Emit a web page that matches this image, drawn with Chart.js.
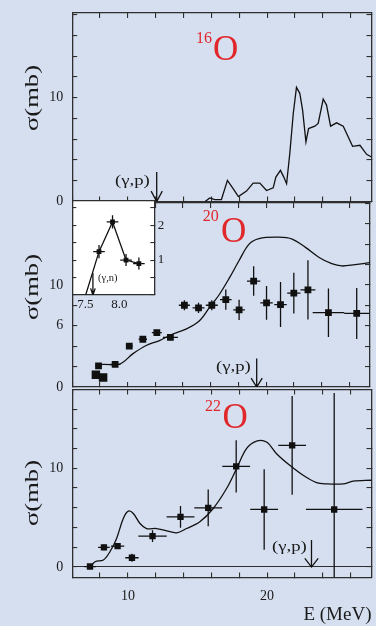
<!DOCTYPE html>
<html><head><meta charset="utf-8">
<script src="https://cdn.jsdelivr.net/npm/chart.js@4/dist/chart.umd.min.js"></script>
<style>
html,body{margin:0;padding:0;background:#d6dff0;width:376px;height:626px;overflow:hidden;}
#wrap{position:relative;width:376px;height:626px;}
canvas{position:absolute;}
.t{position:absolute;font-family:"Liberation Serif","Times New Roman",serif;line-height:1;white-space:nowrap;color:#1a1a1a;}
.red{color:#e0282a;}
</style></head><body><div id="wrap">
<canvas id="c1" width="376" height="206" style="left:0;top:0"></canvas>
<canvas id="c2" width="376" height="196" style="left:0;top:197px"></canvas>
<canvas id="c3" width="376" height="241" style="left:0;top:385px"></canvas>
<canvas id="c4" width="115" height="125" style="left:60px;top:195px"></canvas>
</div>
<script>
// ---------------- data ----------------
// 16O photo-absorption curve
const E16 = [15.55,15.88,16.24,16.72,17.15,17.56,17.94,18.52,19.0,19.48,19.96,20.44,20.63,20.96,21.2,21.4,21.63,21.88,22.11,22.35,22.55,22.79,22.98,23.43,23.67,24.03,24.27,24.56,24.99,25.47,26.14,26.67,27.15,27.5];
const S16 = [0,0.35,0.19,0.19,2.03,1.23,0.48,1.0,1.77,1.77,1.06,1.32,2.35,3.0,2.35,1.71,4.61,8.48,11.0,10.42,8.8,5.74,7.03,7.26,7.52,9.87,9.29,7.26,7.58,7.26,5.32,5.42,4.55,4.29];

// 20O theory curve
const E20c = [7.71,8.23,9.43,10.39,11.34,12.3,13.26,14.21,15.17,15.89,16.61,17.33,18.05,18.77,19.49,20.92,21.88,22.84,23.8,24.74,25.46,26.42,27.5];
const S20c = [2.08,2.21,2.24,3.27,4.07,4.55,5.19,5.67,6.47,7.76,9.04,10.64,12.4,14.0,14.55,14.68,14.49,13.68,12.72,12.08,11.86,11.99,12.18];
// 20O measured points
const E20 = [7.71,8.23,7.9,9.1,10.12,11.1,12.11,13.09,14.1,15.12,16.08,17.09,18.05,19.1,20.03,21.04,22.0,23.02,24.5,26.54];
const S20 = [1.19,0.93,2.08,2.21,4.0,4.68,5.32,4.87,8.01,7.76,8.01,8.56,7.56,10.38,8.24,8.08,9.2,9.52,7.28,7.21];
const dE20 = [0.15,0.15,0.2,0.38,0.24,0.3,0.36,0.54,0.4,0.43,0.43,0.42,0.42,0.48,0.45,0.45,0.48,0.54,1.14,0.9];
const dS20 = [0.2,0.2,0.2,0.25,0.25,0.3,0.3,0.3,0.48,0.5,0.5,1.0,1.0,1.45,1.65,2.2,2.0,2.9,2.37,2.5];

// 22O theory curve
const E22c = [7.28,7.64,8.24,8.71,9.19,9.67,10.03,10.39,10.87,11.34,12.06,12.78,13.5,14.22,15.17,16.13,17.09,17.81,18.52,19.24,19.96,20.68,21.63,22.59,23.55,24.27,25.46,26.18,27.5];
const S22c = [0.0,0.54,0.71,1.55,2.9,4.92,5.66,5.42,4.41,3.9,3.9,3.67,3.47,3.9,4.58,5.93,7.95,9.97,11.99,12.76,12.66,11.48,10.3,9.29,8.55,8.42,8.42,8.69,8.79];
// 22O measured points
const E22 = [7.28,8.28,9.26,10.29,11.77,13.78,15.77,17.78,19.79,21.8,24.82];
const S22 = [0.05,1.99,2.12,0.94,3.13,5.08,5.99,10.2,5.83,12.32,5.83];
const dE22 = [0.42,0.42,0.48,0.48,1.02,1.0,1.0,1.0,1.0,1.0,2.03];
const dS22 = [0.15,0.3,0.3,0.4,0.6,1.1,1.85,2.65,4.07,5.0,11.8];

// inset (20O low energy)
const EinC = [7.503,7.70,7.90,8.10,8.29];
const SinC = [0.0,1.24,2.09,1.0,0.9];
const Ein = [7.70,7.90,8.10,8.29];
const Sin = [1.24,2.09,1.0,0.9];
const dEin = [0.086,0.086,0.086,0.086];
const dSin = [0.19,0.19,0.17,0.17];

// thresholds (MeV)
const thrGP16 = 12.07, thrGP20 = 19.32, thrGP22 = 23.19, thrGN20 = 7.61;

// tick labels
const xTickLabels = [10, 20];
const yTicks16 = [0, 10];
const yTicks20 = [0, 6, 10];
const yTicks22 = [0, 10];
const insetXTicks = [7.5, 8.0];
const insetYTicks = [1, 2];

// ---------------- helpers ----------------
const FONT = 'Liberation Serif';
const AX = '#2e2e2e';
const INK = '#111';
const pts = (E, S) => E.map((e, i) => ({x: e, y: S[i]}));
const vErr = (E, S, d) => E.flatMap((e, i) => [{x: e, y: S[i] - d[i]}, {x: e, y: S[i] + d[i]}, {x: e, y: null}]);
const hErr = (E, S, d) => E.flatMap((e, i) => [{x: e - d[i], y: S[i]}, {x: e + d[i], y: S[i]}, {x: e, y: null}]);
const arrow = (E, len, hw, hh) => [{x: E, y: len}, {x: E, y: 0}, {x: E, y: null}, {x: E - hw, y: hh}, {x: E, y: 0}, {x: E + hw, y: hh}];
const has = (arr, v) => arr.some(a => Math.abs(a - v) < 1e-6);

function axis(pos, size, min, max, step, labels, o = {}) {
  const horiz = pos === 'top' || pos === 'bottom';
  return {
    type: 'linear', position: pos, min, max,
    afterFit: s => {
      if (horiz) s.height = size; else s.width = size;
      s.paddingTop = 0; s.paddingBottom = 0; s.paddingLeft = 0; s.paddingRight = 0;
    },
    border: {display: true, color: AX, width: 1.3},
    grid: Object.assign({drawOnChartArea: false, drawTicks: true, tickLength: o.tl ?? -5, color: AX, lineWidth: 1.1}, o.grid || {}),
    ticks: {
      display: !!labels, stepSize: step, includeBounds: false, autoSkip: false, maxRotation: 0, minRotation: 0,
      padding: o.pad ?? 0, color: '#1a1a1a', font: {family: FONT, size: o.fs ?? 14},
      callback: v => (labels && has(labels, v)) ? (o.fmt ? o.fmt(v) : String(v)) : ''
    },
    title: o.title || {display: false}
  };
}
const curve = (data, tension) => ({data, showLine: true, pointRadius: 0, borderColor: INK, borderWidth: 1.3, tension, fill: false});
const errs = data => ({data, showLine: true, pointRadius: 0, borderColor: INK, borderWidth: 1.3, spanGaps: false, tension: 0});
const marks = (data, r) => ({data, showLine: false, pointStyle: 'rect', pointRadius: r, pointBackgroundColor: INK, pointBorderWidth: 0});

const base = {responsive: false, animation: false, events: [], layout: {padding: 0},
  plugins: {legend: {display: false}, tooltip: {enabled: false}}};

// ---------------- panel 1 : 16O ----------------
new Chart(document.getElementById('c1'), {
  type: 'scatter',
  data: {datasets: [
    curve(pts(E16, S16), 0),
    errs(arrow(thrGP16, 2.84, 0.4, 1.0))
  ]},
  options: Object.assign({}, base, {scales: {
    x: axis('bottom', 4.5, 6, 27.5, 2, null),
    x2: axis('top', 13, 6, 27.5, 2, null),
    y: axis('left', 72.2, 0, 18.16, 2, yTicks16, {pad: 14}),
    y2: axis('right', 4.5, 0, 18.16, 2, null)
  }})
});

// ---------------- panel 2 : 20O ----------------
new Chart(document.getElementById('c2'), {
  type: 'scatter',
  data: {datasets: [
    curve(pts(E20c, S20c), 0.35),
    errs(vErr(E20, S20, dS20)),
    errs(hErr(E20, S20, dE20)),
    Object.assign(marks(pts(E20, S20), 5), {pointRadius: c => c.dataIndex < 2 ? 6 : 4.8}),
    errs(arrow(thrGP20, 2.79, 0.4, 0.87))
  ]},
  options: Object.assign({}, base, {scales: {
    x: axis('bottom', 4, 6, 27.5, 2, null),
    x2: axis('top', 4.5, 6, 27.5, 2, null),
    y: axis('left', 72.2, 0, 18.03, 2, yTicks20, {pad: 14}),
    y2: axis('right', 4.5, 0, 18.03, 2, null)
  }})
});

// ---------------- panel 3 : 22O ----------------
new Chart(document.getElementById('c3'), {
  type: 'scatter',
  data: {datasets: [
    curve(pts(E22c, S22c), 0.35),
    errs(vErr(E22, S22, dS22)),
    errs(hErr(E22, S22, dE22)),
    marks(pts(E22, S22), 4.5),
    errs(arrow(thrGP22, 2.73, 0.48, 0.88))
  ]},
  options: Object.assign({}, base, {scales: {
    x: axis('bottom', 48.5, 6, 27.5, 2, xTickLabels, {pad: 15,
      title: {display: true, text: 'E (MeV)', align: 'end', color: '#1a1a1a', font: {family: FONT, size: 19}, padding: 0}}),
    x2: axis('top', 4, 6, 27.5, 2, null),
    y: axis('left', 72.2, -1.06, 17.98, 2, yTicks22, {pad: 14,
      grid: {drawOnChartArea: true, color: c => (c.tick && c.tick.value === 0) ? AX : 'rgba(0,0,0,0)', tickColor: AX}}),
    y2: axis('right', 4.5, -1.06, 17.98, 2, null)
  }})
});

// ---------------- inset ----------------
const whiteArea = {id: 'whiteArea', beforeDraw(chart) {
  const a = chart.chartArea, ctx = chart.ctx;
  ctx.save(); ctx.fillStyle = '#ffffff'; ctx.fillRect(a.left, a.top, a.right - a.left, a.bottom - a.top); ctx.restore();
}};
new Chart(document.getElementById('c4'), {
  type: 'scatter',
  data: {datasets: [
    curve(pts(EinC, SinC), 0),
    errs(vErr(Ein, Sin, dSin)),
    errs(hErr(Ein, Sin, dEin)),
    marks(pts(Ein, Sin), 3.4),
    errs(arrow(thrGN20, 0.63, 0.034, 0.19))
  ]},
  options: Object.assign({}, base, {scales: {
    x: axis('bottom', 25, 7.305, 8.518, 0.5, insetXTicks, {pad: 2, fs: 13, tl: 0, grid: {drawTicks: false}, fmt: v => v.toFixed(1)}),
    x2: axis('top', 6, 7.305, 8.518, 0.5, null, {tl: 0, grid: {drawTicks: false}}),
    y: axis('left', 12.3, 0, 2.69, 0.5, null, {tl: -4}),
    y2: axis('right', 20.7, 0, 2.69, 0.5, insetYTicks, {tl: -4, pad: 7.5, fs: 13})
  }}),
  plugins: [whiteArea]
});

// ---------------- text ----------------
const wrap = document.getElementById('wrap');
function txt(s, left, baseline, fs, cls, sx) {
  const d = document.createElement('div');
  d.className = 't ' + (cls || '');
  d.textContent = s;
  d.style.fontSize = fs + 'px';
  d.style.left = left + 'px';
  d.style.top = (baseline - 0.8375 * fs) + 'px';
  if (sx) { d.style.transformOrigin = 'left center'; d.style.transform = 'scaleX(' + sx + ')'; }
  wrap.appendChild(d);
}
function ytitle(s, cx, cy) {
  const d = document.createElement('div');
  d.className = 't';
  d.textContent = s;
  d.style.fontSize = '19px';
  d.style.left = cx + 'px';
  d.style.top = cy + 'px';
  d.style.transform = 'translate(-50%,-50%) rotate(-90deg) scaleX(1.4)';
  wrap.appendChild(d);
}
// nuclide labels
txt('16', 196, 43.3, 16, 'red'); txt('O', 213, 60, 35, 'red');
txt('20', 202.7, 221.7, 16, 'red'); txt('O', 221, 242.3, 35, 'red');
txt('22', 205, 411.7, 16, 'red'); txt('O', 222.5, 428.3, 35, 'red');
// threshold labels
txt('(γ,p)', 115, 185.2, 15, '', 1.25);
txt('(γ,p)', 216, 371.9, 15, '', 1.25);
txt('(γ,p)', 271.7, 551.9, 15, '', 1.25);
txt('(γ,n)', 98, 281.1, 10, '', 1.05);
// y titles
ytitle('σ(mb)', 31.4, 98.3);
ytitle('σ(mb)', 31.4, 286.7);
ytitle('σ(mb)', 31.4, 493.3);
</script>
</body></html>
